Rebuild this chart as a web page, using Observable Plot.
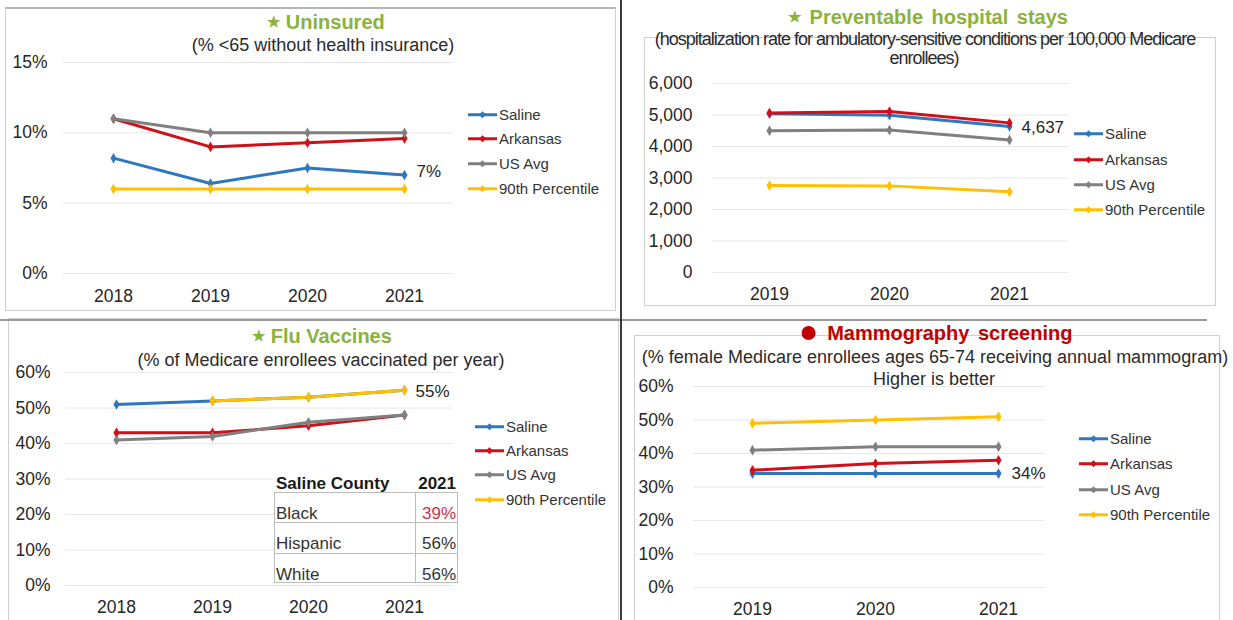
<!DOCTYPE html>
<html>
<head>
<meta charset="utf-8">
<script src="https://cdn.jsdelivr.net/npm/d3@7"></script>
<script src="https://cdn.jsdelivr.net/npm/@observablehq/plot@0.6"></script>
<style>
  html, body { margin: 0; padding: 0; background: #fff; }
  #root { position: relative; width: 1233px; height: 620px; overflow: hidden; background: #fff;
          font-family: "Liberation Sans", Arial, sans-serif; color: #333; }
  .abs { position: absolute; }
  .title { position: absolute; font-weight: bold; font-size: 20px; white-space: nowrap; transform: translate(-50%, -50%); line-height: 1; }
  .sub { position: absolute; font-size: 18px; white-space: nowrap; transform: translate(-50%, -50%); line-height: 1; color: #2b2b2b; }
  .frame { position: absolute; border: 1px solid #cfcfcf; box-sizing: border-box; }
  .leg { position: absolute; font-size: 15px; white-space: nowrap; line-height: 1; transform: translateY(-50%); color: #333; }
  .plot { position: absolute; }
</style>
</head>
<body>
<div id="root"></div>
<script>
// ---------- DATA ----------
const seriesNames = ["Saline", "Arkansas", "US Avg", "90th Percentile"];
const seriesColors = ["#2f78c0", "#d01018", "#808080", "#ffc000"];

// Uninsured (% <65 without health insurance)
const uninsYears = [2018, 2019, 2020, 2021];
const uninsSaline = [8.2, 6.4, 7.5, 7.0];
const uninsArkansas = [11.0, 9.0, 9.3, 9.6];
const uninsUS = [11.0, 10.0, 10.0, 10.0];
const uninsP90 = [6.0, 6.0, 6.0, 6.0];
const uninsTicks = [0, 5, 10, 15];

// Preventable hospital stays
const hospYears = [2019, 2020, 2021];
const hospSaline = [5040, 4990, 4637];
const hospArkansas = [5060, 5110, 4750];
const hospUS = [4500, 4520, 4210];
const hospP90 = [2760, 2750, 2560];
const hospTicks = [0, 1000, 2000, 3000, 4000, 5000, 6000];

// Flu vaccines
const fluYears = [2018, 2019, 2020, 2021];
const fluSaline = [51, 52, 53, 55];
const fluArkansas = [43, 43, 45, 48];
const fluUS = [41, 42, 46, 48];
const fluP90 = [null, 52, 53, 55];
const fluTicks = [0, 10, 20, 30, 40, 50, 60];

// Flu table
const fluTableGroups = ["Black", "Hispanic", "White"];
const fluTableValues = ["39%", "56%", "56%"];

// Mammography screening
const mamYears = [2019, 2020, 2021];
const mamSaline = [34, 34, 34];
const mamArkansas = [35, 37, 38];
const mamUS = [41, 42, 42];
const mamP90 = [49, 50, 51];
const mamTicks = [0, 10, 20, 30, 40, 50, 60];

// ---------- HELPERS ----------
const root = document.getElementById("root");
function el(tag, cls, css, html) {
  const e = document.createElement(tag);
  if (cls) e.className = cls;
  if (css) Object.assign(e.style, css);
  if (html != null) e.innerHTML = html;
  root.appendChild(e);
  return e;
}
function rows(years, arrays) {
  const out = [];
  arrays.forEach((vals, i) => years.forEach((y, j) => {
    out.push({year: String(y), value: vals[j], series: seriesNames[i]});
  }));
  return out;
}
function legend(sx, ys) {
  seriesNames.forEach((n, i) => {
    const c = seriesColors[i];
    el("div", "leg", {left: sx + "px", top: ys[i] + "px"},
      `<svg width="30" height="10" style="vertical-align:middle;margin-right:1px"><line x1="0" y1="5" x2="29" y2="5" stroke="${c}" stroke-width="3"/><path d="M14.5 1.5L18 5L14.5 8.5L11 5Z" fill="${c}"/></svg><span style="vertical-align:middle">${n}</span>`);
  });
}
function panel(o) {
  const data = rows(o.years, o.arrays);
  const ml = o.grid[0] - o.left, mr = o.left + o.w - o.grid[1];
  const axisTextTop = o.xLabelY - 6;
  const pad = 2;
  const mb = o.top + o.h - (axisTextTop - pad);
  const lastSal = data.filter(d => d.series === "Saline").slice(-1);
  const svg = Plot.plot({
    width: o.w, height: o.h,
    marginLeft: ml, marginRight: mr, marginTop: 0, marginBottom: mb,
    style: {fontFamily: '"Liberation Sans", Arial, sans-serif', fontSize: "17px", color: "#262626", background: "transparent", overflow: "visible"},
    x: {type: "point", domain: o.years.map(String), range: [o.x0 - o.left, o.x1 - o.left], padding: 0, label: null},
    y: {domain: o.yDomain, range: [o.yB - o.top, o.yT - o.top], label: null},
    color: {domain: seriesNames, range: seriesColors},
    marks: [
      Plot.ruleY(o.ticks, {stroke: "#e6e6e6", strokeWidth: 1}),
      Plot.axisY({ticks: o.ticks, tickFormat: o.fmt, tickSize: 0, tickPadding: o.grid[0] - o.labelRight, fontSize: 17.5, label: null}),
      Plot.axisX({tickSize: 0, tickPadding: pad, tickFormat: d => d, fontSize: 17.5, label: null}),
      Plot.line(data, {x: "year", y: "value", z: "series", stroke: "series", strokeWidth: 3, curve: "linear"}),
      Plot.dot(data.filter(d => d.value != null), {x: "year", y: "value", fill: "series", symbol: "diamond", r: 3.2, stroke: null}),
      Plot.text(lastSal, {x: "year", y: "value", text: o.labelFn, dx: o.ldx, dy: o.ldy, textAnchor: "start", fontSize: 17, fill: "#262626"})
    ]
  });
  svg.classList.add("plot");
  svg.style.left = o.left + "px";
  svg.style.top = o.top + "px";
  root.appendChild(svg);
}

// ---------- FRAMES & SEPARATORS ----------
el("div", "frame", {left: "5px", top: "7px", width: "611px", height: "304px", borderTop: "2px solid #b5b5b5"});
el("div", "frame", {left: "644px", top: "37px", width: "572px", height: "269px"});
el("div", "frame", {left: "8px", top: "318px", width: "611px", height: "310px"});
el("div", "frame", {left: "634px", top: "335px", width: "586px", height: "300px"});
el("div", "abs", {left: "0px", top: "319px", width: "1207px", height: "2px", background: "#9a9a9a"});
el("div", "abs", {left: "620px", top: "0px", width: "2px", height: "620px", background: "#3a3a3a"});

// ---------- PANEL 1: Uninsured ----------
panel({left: 0, top: 0, w: 620, h: 312, years: uninsYears,
  arrays: [uninsSaline, uninsArkansas, uninsUS, uninsP90],
  x0: 112, x1: 404, yDomain: [0, 15], yB: 273, yT: 62, ticks: uninsTicks,
  fmt: d => d + "%", labelRight: 47, grid: [63, 452], xLabelY: 295,
  labelFn: d => Math.round(d.value) + "%", ldx: 12, ldy: -3});
el("div", "title", {left: "326px", top: "22px", color: "#8ab23c"}, '<span style="font-size:15px;vertical-align:2px">★</span> Uninsured');
el("div", "sub", {left: "323px", top: "45px"}, "(% &lt;65 without health insurance)");
legend(468, [114, 138, 163, 188]);

// ---------- PANEL 2: Preventable hospital stays ----------
panel({left: 622, top: 0, w: 611, h: 312, years: hospYears,
  arrays: [hospSaline, hospArkansas, hospUS, hospP90],
  x0: 768, x1: 1009, yDomain: [0, 6000], yB: 272, yT: 83, ticks: hospTicks,
  fmt: d3.format(","), labelRight: 692, grid: [712, 1068], xLabelY: 293,
  labelFn: d => d3.format(",")(d.value), ldx: 12, ldy: 1});
el("div", "title", {left: "928px", top: "17px", color: "#8ab23c", wordSpacing: "3px"}, '<span style="font-size:15px;vertical-align:2px">★</span> Preventable hospital stays');
el("div", "sub", {left: "925px", top: "39px", letterSpacing: "-1px"}, "(hospitalization rate for ambulatory-sensitive conditions per 100,000 Medicare");
el("div", "sub", {left: "924px", top: "58px", letterSpacing: "-1px"}, "enrollees)");
legend(1074, [133, 159, 184, 209]);

// ---------- PANEL 3: Flu Vaccines ----------
panel({left: 0, top: 321, w: 620, h: 299, years: fluYears,
  arrays: [fluSaline, fluArkansas, fluUS, fluP90],
  x0: 115, x1: 405, yDomain: [0, 60], yB: 585, yT: 372, ticks: fluTicks,
  fmt: d => d + "%", labelRight: 50, grid: [65, 452], xLabelY: 606,
  labelFn: d => d.value + "%", ldx: 11, ldy: 1});
el("div", "title", {left: "322px", top: "336px", color: "#8ab23c"}, '<span style="font-size:15px;vertical-align:2px">★</span> Flu Vaccines');
el("div", "sub", {left: "321px", top: "360px"}, "(% of Medicare enrollees vaccinated per year)");
legend(475, [426, 450, 474, 499]);

// table
el("div", "abs", {left: "272px", top: "470px", width: "188px", height: "24px", background: "#fff"});
el("div", "abs", {left: "276px", top: "483px", fontSize: "17px", fontWeight: "bold", transform: "translateY(-50%)", lineHeight: "1", whiteSpace: "nowrap", color: "#1a1a1a"}, "Saline County");
el("div", "abs", {left: "400px", width: "56px", textAlign: "right", top: "483px", fontSize: "17px", fontWeight: "bold", transform: "translateY(-50%)", lineHeight: "1", color: "#1a1a1a"}, "2021");
el("div", "abs", {left: "274px", top: "492px", width: "184px", height: "91px", background: "#fff", border: "1px solid #bdbdbd", boxSizing: "border-box"});
el("div", "abs", {left: "415px", top: "492px", width: "1px", height: "91px", background: "#bdbdbd"});
[522, 553].forEach(y => el("div", "abs", {left: "274px", top: y + "px", width: "184px", height: "1px", background: "#bdbdbd"}));
const rowY = [513, 543, 574];
fluTableGroups.forEach((g, i) => {
  el("div", "abs", {left: "276px", top: rowY[i] + "px", fontSize: "17px", transform: "translateY(-50%)", lineHeight: "1"}, g);
  el("div", "abs", {left: "417px", width: "39px", textAlign: "right", top: rowY[i] + "px", fontSize: "17px", transform: "translateY(-50%)", lineHeight: "1", color: i === 0 ? "#d0304a" : "#333"}, fluTableValues[i]);
});

// ---------- PANEL 4: Mammography screening ----------
panel({left: 622, top: 322, w: 611, h: 298, years: mamYears,
  arrays: [mamSaline, mamArkansas, mamUS, mamP90],
  x0: 752, x1: 998, yDomain: [0, 60], yB: 587, yT: 386, ticks: mamTicks,
  fmt: d => d + "%", labelRight: 673, grid: [693, 1044], xLabelY: 608,
  labelFn: d => d.value + "%", ldx: 13, ldy: 0});
el("div", "title", {left: "937px", top: "333px", color: "#c00000", wordSpacing: "3px"}, '<span style="display:inline-block;width:14px;height:14px;border-radius:50%;background:#c00000;vertical-align:0px;margin-right:3px"></span> Mammography screening');
el("div", "sub", {left: "935px", top: "357px"}, "(% female Medicare enrollees ages 65-74 receiving annual mammogram)");
el("div", "sub", {left: "934px", top: "379px"}, "Higher is better");
legend(1079, [438, 463, 489, 514]);
</script>
</body>
</html>
